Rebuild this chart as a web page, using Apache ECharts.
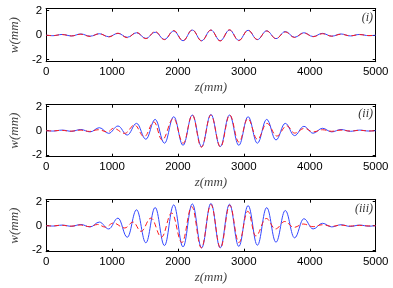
<!DOCTYPE html>
<html><head><meta charset="utf-8">
<script src="https://cdn.jsdelivr.net/npm/echarts@6/dist/echarts.min.js"></script>
<style>html,body{margin:0;padding:0;background:#fff}#c{width:393px;height:288px}</style>
</head><body><div id="c"></div>
<script>
// x tick labels / y tick labels
var xTicks = [0, 1000, 2000, 3000, 4000, 5000];
var yTicks = [-2, 0, 2];
var panelLabels = ['(i)', '(ii)', '(iii)'];

// extrema positions of the solid (blue) curves, z in mm
var zBlue = [0, 103, 244, 385, 526, 667, 808, 949, 1090, 1231, 1372, 1513, 1654, 1795, 1936, 2077, 2218, 2359, 2500,
  2641, 2782, 2923, 3064, 3205, 3346, 3487, 3628, 3769, 3910, 4051, 4192, 4333, 4474, 4615, 4756, 4897, 5000];
// extrema positions of the dashed (red) curves
var zRed1 = zBlue;
var zRed2 = [0, 90, 230, 375, 515, 660, 790, 935, 1020, 1193, 1341, 1488, 1636, 1760, 1932, 2080, 2218, 2355, 2500,
  2645, 2785, 2925, 3060, 3205, 3350, 3500, 3650, 3770, 3920, 4051, 4192, 4333, 4474, 4615, 4756, 4897, 5000];
var zRed3 = [0, 90, 230, 375, 515, 660, 780, 900, 1020, 1193, 1320, 1440, 1590, 1750, 1905, 2060, 2210, 2355, 2500,
  2645, 2785, 2925, 3060, 3180, 3340, 3480, 3620, 3760, 3900, 4051, 4192, 4333, 4474, 4615, 4756, 4897, 5000];

// w in mm
var wBlue1 = [0, -0.04, 0.06, -0.06, 0.1, -0.08, 0.12, -0.12, 0.15, -0.17, 0.2, -0.26, 0.24, -0.34, 0.34, -0.45, 0.42, -0.45, 0.42,
  -0.45, 0.42, -0.42, 0.4, -0.36, 0.36, -0.28, 0.3, -0.17, 0.2, -0.11, 0.15, -0.08, 0.1, -0.06, 0.06, -0.04, 0];
var wRed1 = [0, -0.03, 0.05, -0.06, 0.08, -0.1, 0.12, -0.14, 0.16, -0.2, 0.22, -0.28, 0.3, -0.36, 0.38, -0.45, 0.44, -0.47, 0.42,
  -0.47, 0.44, -0.44, 0.4, -0.35, 0.34, -0.27, 0.26, -0.18, 0.18, -0.12, 0.12, -0.08, 0.08, -0.05, 0.05, -0.03, 0];
var wBlue2 = [0, -0.03, 0.05, -0.05, 0.1, -0.1, 0.25, -0.22, 0.39, -0.36, 0.61, -0.71, 0.94, -1.04, 1.16, -1.21, 1.3, -1.32, 1.35,
  -1.32, 1.3, -1.21, 1.16, -1.04, 0.94, -0.77, 0.61, -0.41, 0.36, -0.21, 0.2, -0.1, 0.1, -0.05, 0.05, -0.03, 0];
var wRed2 = [0, -0.02, 0.03, -0.04, 0.05, -0.06, 0.08, -0.1, 0.2, -0.22, 0.47, -0.5, 0.72, -0.77, 1.02, -1.04, 1.3, -1.38, 1.3,
  -1.35, 1.3, -0.95, 1.0, -0.71, 0.61, -0.44, 0.4, -0.2, 0.2, -0.1, 0.08, -0.05, 0.05, -0.03, 0.03, -0.02, 0];
var wBlue3 = [0, -0.03, 0.05, -0.05, 0.1, -0.1, 0.3, -0.27, 0.63, -0.96, 1.32, -1.42, 1.51, -1.65, 1.73, -1.76, 1.81, -1.84, 1.85,
  -1.84, 1.78, -1.72, 1.67, -1.62, 1.5, -1.37, 1.26, -1.01, 0.58, -0.27, 0.2, -0.1, 0.08, -0.06, 0.05, -0.04, 0];
var wRed3 = [0, -0.02, 0.04, -0.04, 0.06, -0.08, 0.1, -0.12, 0.22, -0.19, 0.3, -0.47, 0.63, -0.95, 1.05, -1.4, 1.58, -1.84, 1.75,
  -1.84, 1.7, -1.4, 1.2, -0.85, 0.6, -0.27, 0.35, -0.14, 0.14, -0.08, 0.08, -0.05, 0.05, -0.03, 0.03, -0.02, 0];

function pairs(z, w) { return z.map(function (v, i) { return [v, w[i]]; }); }

var grids = [
  { left: 37.7, right: 17.3, top: 8.7, height: 53 },
  { left: 37.7, right: 17.3, top: 104.7, height: 52 },
  { left: 37.7, right: 17.3, top: 199.7, height: 52 }
];
var blue = [pairs(zBlue, wBlue1), pairs(zBlue, wBlue2), pairs(zBlue, wBlue3)];
var red = [pairs(zRed1, wRed1), pairs(zRed2, wRed2), pairs(zRed3, wRed3)];

var labelFont = { fontFamily: 'Liberation Sans, Arial, sans-serif', fontSize: 11.5, color: '#000' };
var nameFont = { fontFamily: 'Liberation Serif, Times New Roman, serif', fontStyle: 'italic', fontSize: 13, color: '#444' };
var line = { show: true, onZero: false, lineStyle: { color: '#000', width: 1 } };
var tick = { inside: true, length: 3, lineStyle: { color: '#000' } };
function plain(v) { return String(v); }

var xAxes = [], yAxes = [], series = [], graphics = [];
grids.forEach(function (g, i) {
  xAxes.push({ type: 'value', gridIndex: i, position: 'bottom', min: xTicks[0], max: xTicks[xTicks.length - 1], interval: 1000,
    axisLine: line, axisTick: tick,
    axisLabel: Object.assign({ margin: 4, formatter: plain }, labelFont), splitLine: { show: false },
    name: 'z(mm)', nameLocation: 'middle', nameGap: 19, nameTextStyle: nameFont });
  xAxes.push({ type: 'value', gridIndex: i, position: 'top', min: xTicks[0], max: xTicks[xTicks.length - 1], interval: 1000,
    axisLine: line, axisTick: tick, axisLabel: { show: false }, splitLine: { show: false } });
  yAxes.push({ type: 'value', gridIndex: i, position: 'left', min: -2.16, max: 2.16,
    axisLine: line, axisTick: Object.assign({ customValues: yTicks }, tick),
    axisLabel: Object.assign({ margin: 4, customValues: yTicks, formatter: plain }, labelFont), splitLine: { show: false },
    name: 'w(mm)', nameLocation: 'middle', nameGap: 23, nameRotate: 90, nameTextStyle: nameFont });
  yAxes.push({ type: 'value', gridIndex: i, position: 'right', min: -2.16, max: 2.16,
    axisLine: line, axisTick: Object.assign({ customValues: yTicks }, tick),
    axisLabel: { show: false }, splitLine: { show: false } });
  series.push({ type: 'line', xAxisIndex: 2 * i, yAxisIndex: 2 * i, data: blue[i], smooth: 0.4, smoothMonotone: 'x',
    showSymbol: false, symbol: 'none', lineStyle: { color: '#3346ff', width: 1 }, z: 2, animation: false });
  series.push({ type: 'line', xAxisIndex: 2 * i, yAxisIndex: 2 * i, data: red[i], smooth: 0.4, smoothMonotone: 'x',
    showSymbol: false, symbol: 'none', lineStyle: { color: '#ff1a1a', width: 1, type: [5, 3] }, z: 3, animation: false });
  graphics.push({ type: 'text', right: 20, top: g.top + 3,
    style: { text: panelLabels[i], font: 'italic 12px "Liberation Serif", serif', fill: '#333' } });
});

var chart = echarts.init(document.getElementById('c'), null, { renderer: 'canvas' });
chart.setOption({
  animation: false,
  grid: grids,
  xAxis: xAxes,
  yAxis: yAxes,
  series: series,
  graphic: graphics
});
</script></body></html>
